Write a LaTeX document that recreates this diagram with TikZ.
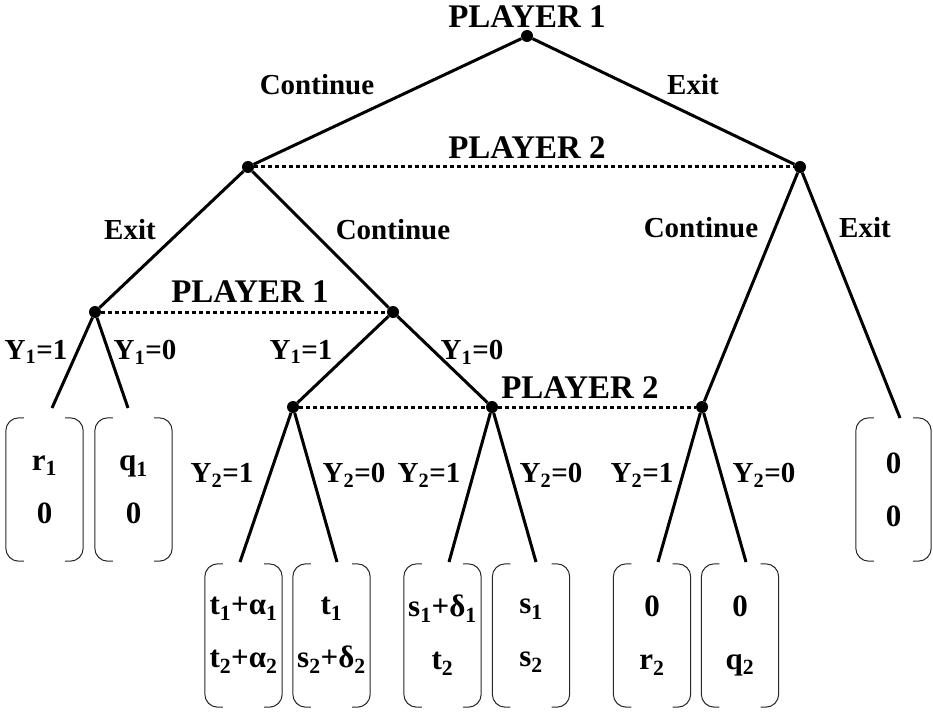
\documentclass[tikz,border=0pt]{standalone}
\usepackage{fontspec}
\setmainfont{Liberation Serif}
\newcommand\payframe[1]{%
  \draw[brk] ([xshift=18pt]#1.north west) -- (#1.north west) -- (#1.south west) -- ([xshift=18pt]#1.south west);
  \draw[brk] ([xshift=-18pt]#1.north east) -- (#1.north east) -- (#1.south east) -- ([xshift=-18pt]#1.south east);}
\newcommand\subx[1]{\textsubscript{#1}}
\begin{document}
\begin{tikzpicture}[x=1pt,y=-1pt,
  edge/.style={line width=3pt},
  info/.style={line width=3pt, dash pattern=on 4pt off 3pt},
  vert/.style={circle,fill,inner sep=0pt,minimum size=12pt},
  lbl/.style={font=\fontsize{29}{34}\selectfont\bfseries, inner sep=0pt},
  plr/.style={font=\fontsize{33}{38}\selectfont\bfseries, inner sep=0pt},
  pay/.style={font=\fontsize{31}{53}\selectfont\bfseries, align=center, inner sep=0pt, minimum width=77pt, minimum height=143pt},
  brk/.style={line width=1pt, draw=black!85, rounded corners=13pt}]
\useasboundingbox (0,0) rectangle (933,714);

% decision vertices
\node[vert] (R) at (527,36) {};
\node[vert] (A) at (248,167) {};
\node[vert] (B) at (800,167) {};
\node[vert] (C) at (95,312) {};
\node[vert] (D) at (393,312) {};
\node[vert] (E) at (293,407) {};
\node[vert] (F) at (492,407) {};
\node[vert] (G) at (702,407) {};

% free ends of terminal edges
\coordinate (c1) at (52,408);
\coordinate (c0) at (128,408);
\coordinate (e1) at (240,562);
\coordinate (e0) at (337,562);
\coordinate (f1) at (449,562);
\coordinate (f0) at (536,562);
\coordinate (g1) at (658,562);
\coordinate (g0) at (746,562);
\coordinate (bx) at (900,418);

% edges
\draw[edge] (R) -- (A);
\draw[edge] (R) -- (B);
\draw[edge] (A) -- (C);
\draw[edge] (A) -- (D);
\draw[edge] (B) -- (G);
\draw[edge] (B) -- (bx);
\draw[edge] (C) -- (c1);
\draw[edge] (C) -- (c0);
\draw[edge] (D) -- (E);
\draw[edge] (D) -- (F);
\draw[edge] (E) -- (e1);
\draw[edge] (E) -- (e0);
\draw[edge] (F) -- (f1);
\draw[edge] (F) -- (f0);
\draw[edge] (G) -- (g1);
\draw[edge] (G) -- (g0);

% information sets
\draw[info] (A) -- (B);
\draw[info] (C) -- (D);
\draw[info] (E) -- (F);
\draw[info] (F) -- (G);

% player labels
\node[plr] (p1) at (527,17) {PLAYER 1};
\node[plr] (p2) at (527,148) {PLAYER 2};
\node[plr] (p3) at (250,292) {PLAYER 1};
\node[plr] (p4) at (580,388) {PLAYER 2};

% action labels
\node[lbl] (l1) at (317,85) {Continue};
\node[lbl] (l2) at (693,85) {Exit};
\node[lbl] (l3) at (130,230) {Exit};
\node[lbl] (l4) at (393,230) {Continue};
\node[lbl] (l5) at (701,228) {Continue};
\node[lbl] (l6) at (865,228) {Exit};
\node[lbl] (y1) at (36,352) {Y\subx{1}=1};
\node[lbl] (y2) at (145,352) {Y\subx{1}=0};
\node[lbl] (y3) at (301,352) {Y\subx{1}=1};
\node[lbl] (y4) at (472,352) {Y\subx{1}=0};
\node[lbl] (y5) at (222,475) {Y\subx{2}=1};
\node[lbl] (y6) at (354,475) {Y\subx{2}=0};
\node[lbl] (y7) at (429,475) {Y\subx{2}=1};
\node[lbl] (y8) at (551,475) {Y\subx{2}=0};
\node[lbl] (y9) at (642,475) {Y\subx{2}=1};
\node[lbl] (y10) at (764,475) {Y\subx{2}=0};

% payoffs
\node[pay] (v1) at (44.5,489.5) {r\subx{1}\\0};
\node[pay] (v2) at (133.5,489.5) {q\subx{1}\\0};
\node[pay, minimum width=75pt] (v3) at (893.5,489.5) {0\\0};
\node[pay] (v4) at (243.5,635.5) {t\subx{1}+α\subx{1}\\t\subx{2}+α\subx{2}};
\node[pay] (v5) at (331.5,635.5) {t\subx{1}\\s\subx{2}+δ\subx{2}};
\node[pay] (v6) at (442.5,635.5) {s\subx{1}+δ\subx{1}\\t\subx{2}};
\node[pay] (v7) at (531,635.5) {s\subx{1}\\s\subx{2}};
\node[pay] (v8) at (652,635.5) {0\\r\subx{2}};
\node[pay] (v9) at (740,635.5) {0\\q\subx{2}};
\foreach \v in {v1,v2,v3,v4,v5,v6,v7,v8,v9} {\payframe{\v}}
\end{tikzpicture}
\end{document}
